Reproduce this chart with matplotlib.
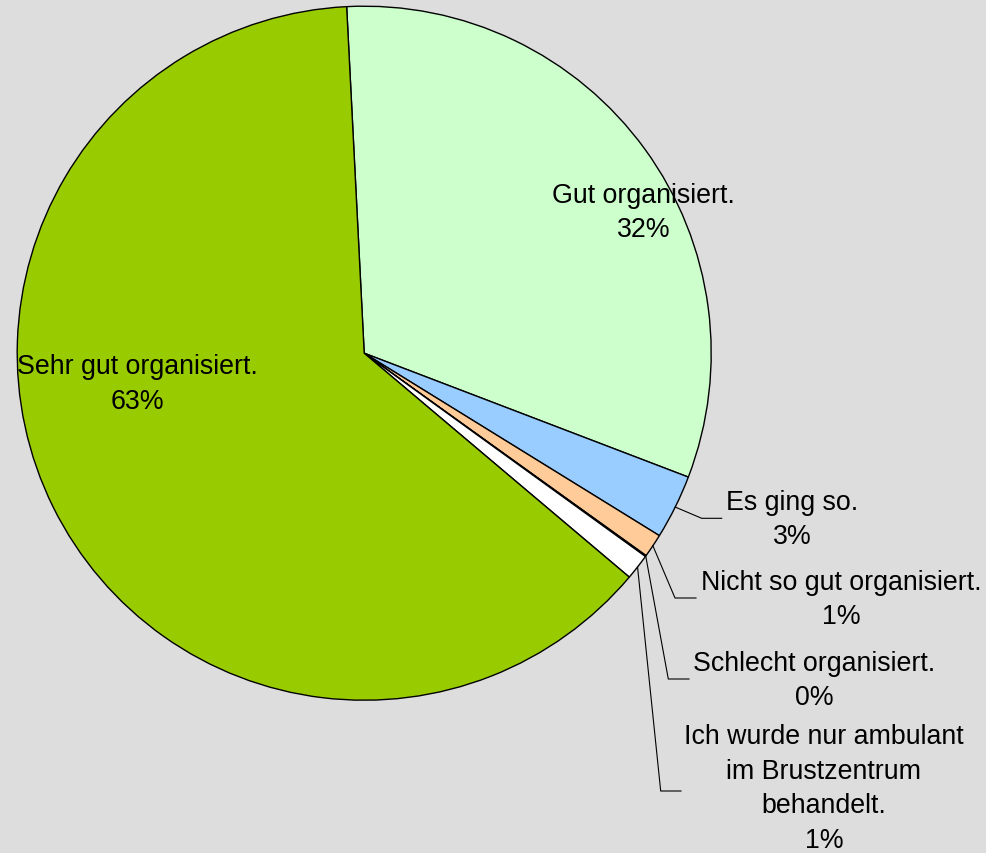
import matplotlib
matplotlib.use("Agg")
import matplotlib.pyplot as plt
import numpy as np

plt.rcParams['font.family'] = ['Liberation Sans', 'DejaVu Sans']

# ---- data ----
categories = ["Gut organisiert.", "Es ging so.", "Nicht so gut organisiert.",
              "Schlecht organisiert.",
              "Ich wurde nur ambulant\nim Brustzentrum\nbehandelt.",
              "Sehr gut organisiert."]
values = [31.6, 3.0, 1.1, 0.05, 1.2, 63.0]
colors = ["#CCFFCC", "#99CCFF", "#FFCC99", "#FF8080", "#FFFFFF", "#99CC00"]

W, H = 986, 854
fig = plt.figure(figsize=(W / 100, H / 100), dpi=100)
fig.patch.set_facecolor("#DDDDDD")
ax = fig.add_axes([0, 0, 1, 1])
ax.set_facecolor("#DDDDDD")

cx, cy, R = 364.2, H - 354.2, 347.0
wedges, _ = ax.pie(values, colors=colors, startangle=92.9, counterclock=False,
                   center=(cx, cy), radius=R,
                   wedgeprops=dict(edgecolor="black", linewidth=1.0))
ax.set_xlim(0, W)
ax.set_ylim(0, H)
ax.set_aspect("auto")
ax.axis("off")

total = sum(values)
pct = [f"{round(v / total * 100):.0f}%" for v in values]

fs = 19.3
# label block centres (pixel coords from top) -- layout
label_pos = {
    0: (643.7, 213.0),
    1: (792.5, 520.0),
    2: (841.0, 600.0),
    3: (814.5, 681.0),
    4: (824.0, 789.0),
    5: (137.0, 384.5),
}
# leader elbows & ends (pixel coords) for outside labels
leaders = {
    1: ((701.7, 519.3), (721.7, 519.3)),
    2: ((675.0, 599.0), (696.0, 599.0)),
    3: ((668.3, 680.0), (689.0, 680.0)),
    4: ((660.7, 792.0), (681.0, 792.0)),
}

for i, (cat, p) in enumerate(zip(categories, pct)):
    x, y = label_pos[i]
    ax.text(x, H - y, f"{cat}\n{p}", ha="center", va="center",
            multialignment="center", fontsize=fs, linespacing=1.42,
            color="black", zorder=5)
    if i in leaders:
        w = wedges[i]
        mid = np.deg2rad((w.theta1 + w.theta2) / 2)
        sx, sy = cx + R * np.cos(mid), cy + R * np.sin(mid)
        (ex, ey), (hx, hy) = leaders[i]
        ax.plot([sx, ex, hx], [sy, H - ey, H - hy], color="black",
                linewidth=0.8, zorder=4)

fig.savefig("out.png", dpi=100, facecolor=fig.get_facecolor())
